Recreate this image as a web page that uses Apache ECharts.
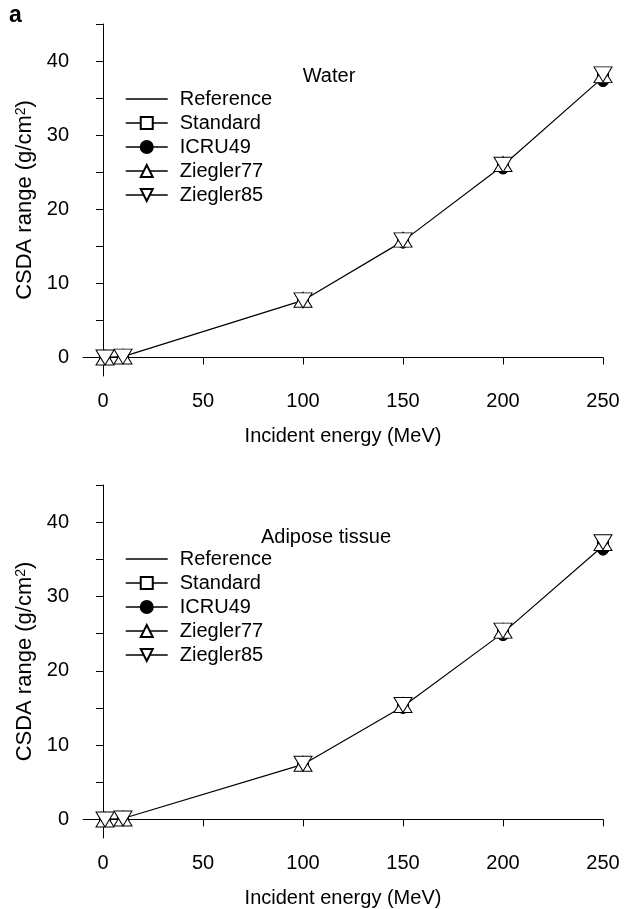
<!DOCTYPE html>
<html lang="en">
<head>
	<meta charset="UTF-8">
	<title>CSDA range</title>
	<style type="text/css">
	html, body {
		margin: 0;
		padding: 0;
		background: #fff;
	}
	.chart {
		width: 624px;
		height: 909px;
	}
</style>
</head>
<body>
	<div class="chart"></div>

	<script type="text/javascript" src="https://cdn.jsdelivr.net/npm/echarts@6/dist/echarts.min.js"></script>
	<script type="text/javascript">

		// 数据
		var energy = [1, 10, 100, 150, 200, 250];

		var waterReference = [0.0, 0.12, 7.7, 15.7, 25.9, 37.8];
		var waterStandard = [0.0, 0.12, 7.7, 15.7, 25.9, 37.8];
		var waterICRU49 = [0.0, 0.12, 7.6, 15.5, 25.5, 37.3];
		var waterZiegler77 = [0.0, 0.13, 7.8, 15.9, 26.1, 38.1];
		var waterZiegler85 = [0.0, 0.12, 7.7, 15.8, 26.0, 38.2];

		var adiposeReference = [0.0, 0.12, 7.4, 15.2, 25.1, 36.8];
		var adiposeStandard = [0.0, 0.12, 7.4, 15.2, 25.1, 36.8];
		var adiposeICRU49 = [0.0, 0.12, 7.3, 15.0, 24.8, 36.3];
		var adiposeZiegler77 = [0.0, 0.12, 7.5, 15.4, 25.4, 37.2];
		var adiposeZiegler85 = [0.0, 0.12, 7.5, 15.4, 25.4, 37.3];

		var seriesNames = ['Reference', 'Standard', 'ICRU49', 'Ziegler77', 'Ziegler85'];
		var xTicks = [0, 50, 100, 150, 200, 250];
		var yLabels = [0, 10, 20, 30, 40];
		var yTicks = [0, 5, 10, 15, 20, 25, 30, 35, 40, 45];

		var font = 'Liberation Sans, Arial, Helvetica, sans-serif';
		var fs = 20;
		var chart = echarts.init(document.getElementsByClassName("chart")[0]);

		function pairs (xs, ys) {
			var arr = [];
			xs.forEach(function (x, i) {
				arr[i] = [x, ys[i]];
			})
			return arr;
		}

		// 每个面板五条曲线：只有 Reference 画线，其余只画点
		function makeSeries (idx, lists) {
			var styles = [
				{symbol: 'none', symbolSize: 0, fill: '#000', opacity: 0},
				{symbol: 'rect', symbolSize: 11, fill: '#fff'},
				{symbol: 'circle', symbolSize: 11, fill: '#000'},
				{symbol: 'triangle', symbolSize: [18, 15], fill: '#fff'},
				{symbol: 'triangle', symbolSize: [18, 15], fill: '#fff', rotate: 180}
			];
			return lists.map(function (ys, i) {
				var s = styles[i];
				return {
					name: seriesNames[i],
					type: 'line',
					xAxisIndex: idx,
					yAxisIndex: idx,
					data: pairs(energy, ys),
					symbol: s.symbol,
					symbolSize: s.symbolSize,
					symbolRotate: s.rotate || 0,
					showSymbol: s.symbol !== 'none',
					lineStyle: {color: '#000', width: 1.2, opacity: i === 0 ? 1 : 0},
					itemStyle: {
						color: s.fill,
						borderColor: '#000',
						borderWidth: 1,
						opacity: s.opacity === undefined ? 1 : s.opacity
					},
					emphasis: {disabled: true},
					z: 2 + i
				};
			});
		}

		function xAxisOf (idx) {
			return {
				type: 'value',
				gridIndex: idx,
				min: -10,
				max: 250,
				name: 'Incident energy (MeV)',
				nameLocation: 'middle',
				nameGap: 50,
				nameTextStyle: {color: '#000', fontSize: fs, fontFamily: font},
				axisLine: {lineStyle: {color: '#000', width: 1}},
				axisTick: {show: true, length: 7, lineStyle: {color: '#000'}, customValues: xTicks},
				axisLabel: {color: '#000', fontSize: fs, fontFamily: font, margin: 15, customValues: xTicks},
				splitLine: {show: false}
			};
		}

		function yAxisOf (idx) {
			return {
				type: 'value',
				gridIndex: idx,
				min: -2.5,
				max: 45,
				name: 'CSDA range (g/cm{sup|2})',
				nameLocation: 'middle',
				nameRotate: 90,
				nameGap: 46,
				nameTextStyle: {
					color: '#000', fontSize: 22, fontFamily: font,
					rich: {sup: {fontSize: 14, fontFamily: font, color: '#000', verticalAlign: 'top', padding: [0, 0, 7, 0]}}
				},
				axisLine: {lineStyle: {color: '#000', width: 1}},
				axisTick: {show: true, length: 7, lineStyle: {color: '#000'}, customValues: yTicks},
				axisLabel: {color: '#000', fontSize: fs, fontFamily: font, margin: 14, customValues: yLabels},
				splitLine: {show: false}
			};
		}

		// 图例里每一项都带线段
		function legendOf (top) {
			return {
				orient: 'vertical',
				left: 120,
				top: top,
				itemWidth: 42,
				itemHeight: 15,
				itemGap: 4,
				selectedMode: false,
				data: seriesNames.map(function (n) {
					return {name: n, lineStyle: {color: '#000', width: 1.5, opacity: 1}};
				}),
				textStyle: {color: '#000', fontSize: fs, fontFamily: font, padding: [0, 0, 0, 7]}
			};
		}

		var option = {
			animation: false,
			backgroundColor: '#fff',
			grid: [
				{left: 83, top: 24, width: 520, height: 352},
				{left: 83, top: 485, width: 520, height: 353}
			],
			xAxis: [xAxisOf(0), xAxisOf(1)],
			yAxis: [yAxisOf(0), yAxisOf(1)],
			legend: [legendOf(84), legendOf(544)],
			graphic: [
				{type: 'text', left: 9, top: 4, style: {text: 'a', fontSize: 23, fontWeight: 'bold', fontFamily: font, fill: '#000'}},
				{type: 'text', x: 329, y: 76, style: {text: 'Water', fontSize: fs, fontFamily: font, fill: '#000', align: 'center', verticalAlign: 'middle'}},
				{type: 'text', x: 326, y: 537, style: {text: 'Adipose tissue', fontSize: fs, fontFamily: font, fill: '#000', align: 'center', verticalAlign: 'middle'}}
			],
			series: makeSeries(0, [waterReference, waterStandard, waterICRU49, waterZiegler77, waterZiegler85])
				.concat(makeSeries(1, [adiposeReference, adiposeStandard, adiposeICRU49, adiposeZiegler77, adiposeZiegler85]))
		};

		chart.setOption(option);

	</script>
</body>
</html>
